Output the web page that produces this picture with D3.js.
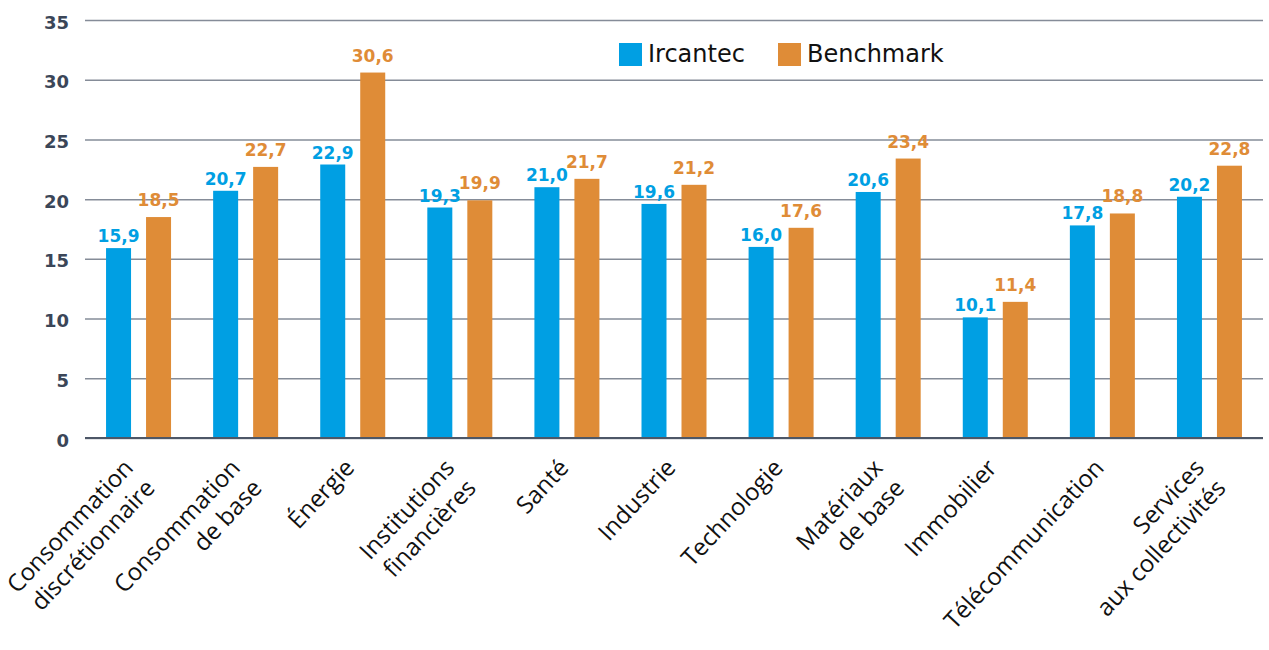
<!DOCTYPE html>
<html lang="fr">
<head>
<meta charset="utf-8">
<script src="https://cdn.jsdelivr.net/npm/d3@7"></script>
<style>
  html, body { margin: 0; padding: 0; background: #ffffff; }
  svg { display: block; }
</style>
</head>
<body>
<svg id="chart" width="1269" height="650"></svg>
<script>
// Sector categories (line breaks marked with "\n")
const categories = [
  "Consommation\ndiscrétionnaire",
  "Consommation\nde base",
  "Énergie",
  "Institutions\nfinancières",
  "Santé",
  "Industrie",
  "Technologie",
  "Matériaux\nde base",
  "Immobilier",
  "Télécommunication",
  "Services\naux collectivités"
];

const seriesNames = ["Ircantec", "Benchmark"];
const ircantecValues  = [15.9, 20.7, 22.9, 19.3, 21.0, 19.6, 16.0, 20.6, 10.1, 17.8, 20.2];
const benchmarkValues = [18.5, 22.7, 30.6, 19.9, 21.7, 21.2, 17.6, 23.4, 11.4, 18.8, 22.8];
const yTicks = [0, 5, 10, 15, 20, 25, 30, 35];

const colors = { Ircantec: "#009fe3", Benchmark: "#df8c37" };
const valuesBySeries = { Ircantec: ircantecValues, Benchmark: benchmarkValues };
const labelGap = { Ircantec: 6, Benchmark: 11 };

const svg = d3.select("#chart");

const plot = { left: 85, right: 1263, top: 20, bottom: 438 };

const x0 = d3.scaleBand()
  .domain(categories)
  .range([plot.left, plot.right])
  .paddingInner(0)
  .paddingOuter(0);

const bw = x0.bandwidth();
const x1 = d3.scaleBand()
  .domain(seriesNames)
  .range([bw / 2 - 32.5, bw / 2 + 32.5])
  .paddingInner(0.375);

const y = d3.scaleLinear()
  .domain([0, 35])
  .range([plot.bottom, plot.top]);

const fmt = v => v.toFixed(1).replace(".", ",");

// Horizontal grid lines with tick labels
const yAxis = d3.axisLeft(y)
  .tickValues(yTicks)
  .tickSize(-(plot.right - plot.left))
  .tickPadding(16)
  .tickFormat(d => d);

const gy = svg.append("g")
  .attr("transform", `translate(${plot.left},0)`)
  .call(yAxis);
gy.select(".domain").remove();
gy.selectAll(".tick line")
  .attr("stroke", "#858c98")
  .attr("stroke-width", 1.5);
gy.selectAll(".tick text")
  .attr("fill", "#3b4658")
  .attr("font-family", "'DejaVu Sans', sans-serif")
  .attr("font-weight", "bold")
  .attr("font-size", 18)
  .attr("dy", "0.45em");

// Bars
const rows = categories.map((c, i) => ({
  cat: c,
  items: seriesNames.map(s => ({ series: s, value: valuesBySeries[s][i] }))
}));

const groups = svg.append("g")
  .selectAll("g")
  .data(rows)
  .join("g")
  .attr("transform", d => `translate(${x0(d.cat)},0)`);

groups.selectAll("rect")
  .data(d => d.items)
  .join("rect")
  .attr("x", d => x1(d.series))
  .attr("width", x1.bandwidth())
  .attr("y", d => y(d.value))
  .attr("height", d => y(0) - y(d.value))
  .attr("fill", d => colors[d.series]);

// Value labels above bars
groups.selectAll("text.val")
  .data(d => d.items)
  .join("text")
  .attr("class", "val")
  .attr("x", d => x1(d.series) + x1.bandwidth() / 2)
  .attr("y", d => y(d.value) - labelGap[d.series])
  .attr("text-anchor", "middle")
  .attr("font-family", "'DejaVu Sans', sans-serif")
  .attr("font-weight", "bold")
  .attr("font-size", 17)
  .attr("fill", d => colors[d.series])
  .text(d => fmt(d.value));

// Baseline at zero
svg.append("line")
  .attr("x1", plot.left)
  .attr("x2", plot.right)
  .attr("y1", y(0))
  .attr("y2", y(0))
  .attr("stroke", "#4d5767")
  .attr("stroke-width", 2);

// Rotated category labels
const catLabels = svg.append("g")
  .selectAll("text")
  .data(categories)
  .join("text")
  .attr("transform", d => {
    const lines = d.split("\n").length;
    const cx = x0(d) + bw / 2 + (lines === 1 ? 3 : -4);
    return `translate(${cx},469) rotate(-47)`;
  })
  .attr("text-anchor", "end")
  .attr("font-family", "'Open Sans', sans-serif")
  .attr("font-size", 24)
  .attr("fill", "#111111");

catLabels.selectAll("tspan")
  .data(d => d.split("\n"))
  .join("tspan")
  .attr("x", 0)
  .attr("y", (d, i) => i * 29.5)
  .text(d => d);

// Legend
const legend = svg.append("g");
const legendItems = [
  { name: "Ircantec", x: 619 },
  { name: "Benchmark", x: 778 }
];
legendItems.forEach(it => {
  legend.append("rect")
    .attr("x", it.x)
    .attr("y", 43)
    .attr("width", 23)
    .attr("height", 23)
    .attr("fill", colors[it.name]);
  legend.append("text")
    .attr("x", it.x + 29)
    .attr("y", 62)
    .attr("font-family", "'DejaVu Sans', sans-serif")
    .attr("font-size", 24)
    .attr("fill", "#111111")
    .text(it.name);
});
</script>
</body>
</html>
